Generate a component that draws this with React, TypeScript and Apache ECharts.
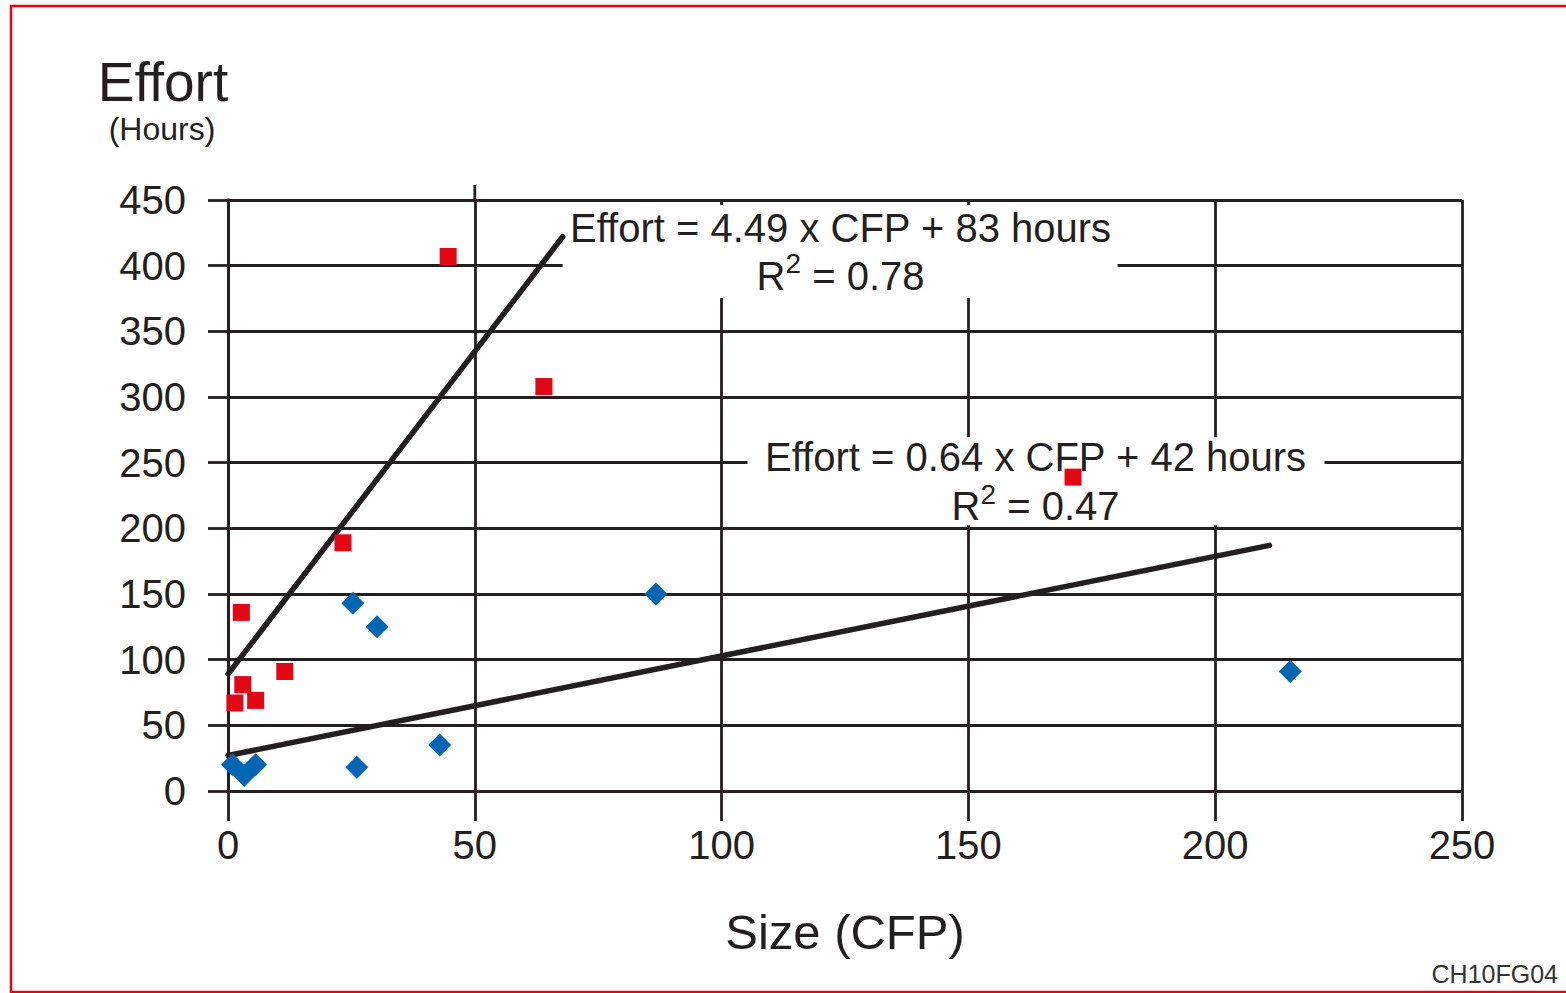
import React, { useEffect, useRef } from "react";
import * as echarts from "echarts";

// ---- data ----
const redSize = [2.7, 3.0, 1.4, 5.6, 11.5, 23.3, 44.6, 64.0, 171.2];
const redEffort = [136, 81, 67, 69, 91, 189, 407, 308, 239];
const blueSize = [0.9, 3.3, 5.6, 25.3, 26.1, 30.2, 42.9, 86.7, 215.2];
const blueEffort = [20, 12, 20, 143, 18, 125, 35, 150, 91];
const redTrendX = [0, 67.8];
const redTrendY = [89, 422];
const blueTrendX = [0, 211];
const blueTrendY = [27, 187];
const eq1 = "Effort = 4.49 x CFP + 83 hours";
const r2a = "0.78";
const eq2 = "Effort = 0.64 x CFP + 42 hours";
const r2b = "0.47";

const INK = "#231f20";
const FONT = '"Liberation Sans", Arial, Helvetica, sans-serif';

const zip = (xs: number[], ys: number[]) => xs.map((x, i) => [x, ys[i]]);

export default function App() {
  const ref = useRef<HTMLDivElement>(null);
  useEffect(() => {
    document.body.style.margin = "0";
    const chart = echarts.init(ref.current!, null, { renderer: "svg" });
    const lineStyle = { color: INK, width: 2.8 };
    chart.setOption({
      animation: false,
      backgroundColor: "#ffffff",
      grid: { left: 228, right: 104, top: 200, bottom: 202 },
      xAxis: {
        type: "value",
        min: 0,
        max: 250,
        interval: 50,
        axisLine: { show: true, onZero: false, lineStyle },
        axisTick: { show: true, length: 30, lineStyle },
        axisLabel: { fontSize: 40, color: INK, fontFamily: FONT, margin: 34 },
        splitLine: { show: true, lineStyle },
      },
      yAxis: {
        type: "value",
        min: 0,
        max: 450,
        interval: 50,
        axisLine: { show: true, onZero: false, lineStyle },
        axisTick: { show: true, length: 20, lineStyle },
        axisLabel: { fontSize: 40, color: INK, fontFamily: FONT, margin: 42 },
        splitLine: { show: true, lineStyle },
      },
      series: [
        {
          type: "line",
          data: zip(redTrendX, redTrendY),
          symbol: "none",
          lineStyle: { color: INK, width: 5.5, cap: "round" },
          z: 5,
        },
        {
          type: "line",
          data: zip(blueTrendX, blueTrendY),
          symbol: "none",
          lineStyle: { color: INK, width: 5.5, cap: "round" },
          z: 5,
        },
        {
          type: "scatter",
          data: zip(redSize, redEffort),
          symbol: "rect",
          symbolSize: 17,
          itemStyle: { color: "#e30613", opacity: 1 },
          z: 6,
        },
        {
          type: "scatter",
          data: zip(blueSize, blueEffort),
          symbol: "diamond",
          symbolSize: 23,
          itemStyle: { color: "#0066b3", opacity: 1 },
          z: 6,
        },
      ],
    });

    const p = (x: number, y: number) =>
      chart.convertToPixel({ gridIndex: 0 }, [x, y]) as number[];

    const a1 = p(124.1, 428.7); // centre of first equation line
    const a2 = p(163.6, 254.2); // centre of second equation line
    const top50 = p(50, 450);

    const eqText = (c: number[], text: string) => ({
      type: "text",
      x: c[0],
      y: c[1],
      z: 2,
      style: {
        text,
        fontSize: 40,
        fontFamily: FONT,
        fill: INK,
        align: "center",
        verticalAlign: "middle",
      },
    });
    const r2Text = (c: number[], v: string) => ({
      type: "text",
      x: c[0],
      y: c[1],
      z: 2,
      style: {
        text: `{r|R}{s|2}{r| = ${v}}`,
        fill: INK,
        align: "center",
        verticalAlign: "middle",
        rich: {
          r: { fontSize: 40, fontFamily: FONT, fill: INK, lineHeight: 46, verticalAlign: "bottom" },
          s: { fontSize: 28, fontFamily: FONT, fill: INK, lineHeight: 24, verticalAlign: "top" },
        },
      },
    });

    chart.setOption({
      graphic: [
        {
          type: "rect",
          z: 1,
          shape: { x: 11, y: 6, width: 1600, height: 986 },
          style: { fill: "none", stroke: "#e30613", lineWidth: 2.5 },
        },
        {
          type: "line",
          z: 1,
          shape: { x1: top50[0], y1: top50[1], x2: top50[0], y2: top50[1] - 15 },
          style: { stroke: INK, lineWidth: 2.8 },
        },
        {
          type: "rect",
          z: 1,
          shape: { x: a1[0] - 278, y: a1[1] - 23, width: 555, height: 93 },
          style: { fill: "#ffffff" },
        },
        {
          type: "rect",
          z: 1,
          shape: { x: a2[0] - 288, y: a2[1] - 20, width: 577, height: 88 },
          style: { fill: "#ffffff" },
        },
        eqText(a1, eq1),
        r2Text([a1[0], a1[1] + 45], r2a),
        eqText(a2, eq2),
        r2Text([a2[0], a2[1] + 46], r2b),
        {
          type: "text",
          x: 163,
          y: 82,
          z: 2,
          style: {
            text: "Effort",
            fontSize: 55,
            fontFamily: FONT,
            fill: INK,
            align: "center",
            verticalAlign: "middle",
          },
        },
        {
          type: "text",
          x: 162,
          y: 129,
          z: 2,
          style: {
            text: "(Hours)",
            fontSize: 32,
            fontFamily: FONT,
            fill: INK,
            align: "center",
            verticalAlign: "middle",
          },
        },
        {
          type: "text",
          x: 845,
          y: 932,
          z: 2,
          style: {
            text: "Size (CFP)",
            fontSize: 49,
            fontFamily: FONT,
            fill: INK,
            align: "center",
            verticalAlign: "middle",
          },
        },
        {
          type: "text",
          x: 1558,
          y: 974,
          z: 2,
          style: {
            text: "CH10FG04",
            fontSize: 25,
            fontFamily: FONT,
            fill: "#333333",
            align: "right",
            verticalAlign: "middle",
          },
        },
      ],
    });

    return () => chart.dispose();
  }, []);
  return <div ref={ref} style={{ width: 1566, height: 993 }} />;
}
